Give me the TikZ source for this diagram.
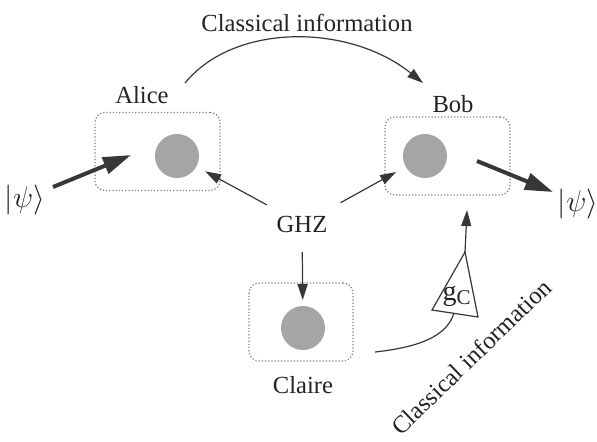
\documentclass[tikz,border=0pt]{standalone}
\usepackage{fontspec}
\setmainfont{Liberation Serif}
\usetikzlibrary{arrows.meta}
\definecolor{boxline}{RGB}{125,125,125}
\definecolor{ballfill}{RGB}{165,165,165}
\definecolor{arrowcol}{RGB}{55,55,55}
\definecolor{txt}{RGB}{35,35,35}
\begin{document}
\begin{tikzpicture}[x=0.5pt,y=-0.5pt,
  every node/.style={text=txt,font=\fontsize{12.3}{14}\selectfont},
  labbox/.style={draw=boxline,densely dotted,line width=0.6pt,rounded corners=5pt,minimum height=39pt,inner sep=0pt},
  ball/.style={circle,fill=ballfill,minimum size=22pt,inner sep=0pt},
  thin arrow/.style={draw=arrowcol,line width=0.6pt,-{Triangle[length=8pt,width=5pt]}},
  thick arrow/.style={draw=arrowcol,line width=2pt,-{Triangle[length=14pt,width=8.5pt]}},
  curve/.style={draw=arrowcol,line width=0.6pt}
]
\useasboundingbox (0,0) rectangle (597,441);
% boxes
\node[labbox,minimum width=62.5pt] (abox) at (157.5,151.5) {};
\node[labbox,minimum width=62.5pt] (bbox) at (447.5,156) {};
\node[labbox,minimum width=52pt] (cbox) at (301,322) {};
% balls
\node[ball] (aball) at (177,156) {};
\node[ball] (bball) at (425,156) {};
\node[ball] (cball) at (303,328) {};
% labels
\node (alice) at (142,95) {Alice};
\node (bob) at (453,104) {Bob};
\node (claire) at (303,385) {Claire};
\node (ghz) at (302,224) {GHZ};
\node (top) at (307,23) {Classical information};
\node[rotate=44] (side) at (471,357) {Classical information};
\node[inner sep=0pt,scale=1.25] (psiL) at (25,200) {$\bigl|\psi\bigr\rangle$};
\node[inner sep=0pt,scale=1.25] (psiR) at (578,204) {$\bigl|\psi\bigr\rangle$};
% triangle
\coordinate (t1) at (465,252);
\coordinate (t2) at (432,310);
\coordinate (t3) at (478,317);
\draw[draw=arrowcol,line width=0.6pt,line join=miter] (t1) -- (t2) -- (t3) -- cycle;
\node[inner sep=0pt] (gc) at (457,296) {\fontsize{14}{16}\selectfont g\textsubscript{\fontsize{10.5}{12}\selectfont C}};
% GHZ arrows
\draw[thin arrow,shorten <=20pt,shorten >=16pt] (ghz.center) -- (aball.center);
\draw[thin arrow,shorten <=22pt,shorten >=16.5pt] (ghz.center) -- (bball.center);
\draw[thin arrow,shorten <=14pt,shorten >=14pt] (ghz.center) -- (cball.center);
% thick arrows
\coordinate (ainS) at (53,187);
\coordinate (ainE) at (131,155);
\draw[thick arrow] (ainS) -- (ainE);
\coordinate (boutS) at (477,161);
\coordinate (boutE) at (553,192);
\draw[thick arrow] (boutS) -- (boutE);
% classical info arcs
\coordinate (arcS) at (185,83);
\coordinate (arcE) at (423,83);
\draw[thin arrow] (arcS) .. controls (235,22) and (350,24) .. (arcE);
\coordinate (cS) at (375,352);
\coordinate (cE) at (454,313);
\draw[curve] (cS) .. controls (420,347) and (447,336) .. (cE);
\coordinate (gcUp) at (467,210);
\draw[thin arrow] (t1) -- (gcUp);
\end{tikzpicture}
\end{document}
